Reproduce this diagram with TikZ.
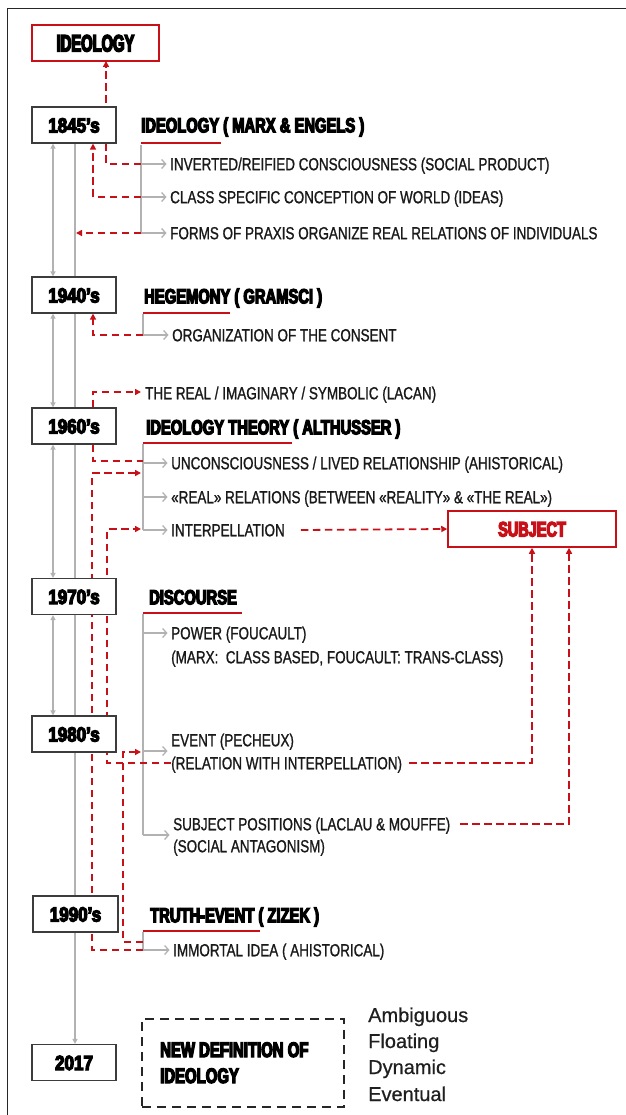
\documentclass[tikz,border=0pt]{standalone}
\usepackage{fontspec}
\setmainfont{Liberation Sans}
\usetikzlibrary{arrows.meta,backgrounds}
\newfontfamily\fbody[FakeStretch=0.77,FakeBold=1]{Liberation Sans}
\newfontfamily\fhead[FakeStretch=0.72,FakeBold=6]{Liberation Sans Bold}
\newfontfamily\fyear[FakeStretch=0.83,FakeBold=6]{Liberation Sans Bold}
\newfontfamily\ftop[FakeStretch=0.62,FakeBold=6]{Liberation Sans Bold}
\newfontfamily\fsubj[FakeStretch=0.69,FakeBold=6]{Liberation Sans Bold}
\newfontfamily\fnew[FakeStretch=0.71,FakeBold=6]{Liberation Sans Bold}
\newfontfamily\fplain[FakeBold=0.6]{Liberation Sans}
\definecolor{rd}{RGB}{200,16,24}
\definecolor{gl}{RGB}{178,178,178}
\definecolor{bx}{RGB}{60,60,60}
\begin{document}
\begin{tikzpicture}[x=1pt,y=-1pt,
  yearbox/.style={draw=bx, line width=1.2pt, fill=white, minimum width=84pt, minimum height=36pt, inner sep=0pt, text height=15pt, text depth=0pt, font={\fyear\fontsize{20.5}{21}\selectfont}},
  redbox/.style={draw=rd, line width=1.5pt, fill=white, minimum height=36pt, inner sep=0pt},
  head/.style={anchor=west, inner sep=0pt, text height=14.7pt, text depth=0pt, font={\fhead\fontsize{20.5}{21}\selectfont}},
  item/.style={anchor=west, inner sep=0pt, text height=12.5pt, text depth=0pt, text=black!90, font={\fbody\fontsize{17.5}{18}\selectfont}},
  adj/.style={anchor=base west, inner sep=0pt, text=black!88, font={\fplain\fontsize{20}{20}\selectfont}},
  newtxt/.style={anchor=base west, inner sep=0pt, font={\fnew\fontsize{21}{21}\selectfont}},
  uline/.style={draw=rd, line width=2.4pt},
  gline/.style={draw=gl, line width=1.3pt},
  garr/.style={gline, shorten >=3.5pt, -{Straight Barb[length=4pt,width=9pt]}},
  gdbl/.style={gline, {Triangle[length=5pt,width=5pt]}-{Triangle[length=5pt,width=5pt]}},
  gend/.style={gline, -{Triangle[length=5pt,width=5pt]}},
  rdash/.style={draw=rd, line width=1.8pt, dash pattern=on 7.5pt off 4.5pt},
  rarr/.style={rdash, -{Triangle[length=6pt,width=6pt]}}]
\useasboundingbox (0,0) rectangle (625,1115);

% boxes
\node[redbox, minimum width=127pt, text height=17pt, text depth=0pt, font={\ftop\fontsize{23.7}{24}\selectfont}] (ideo) at (95.5,43) {IDEOLOGY};
\node[yearbox] (y1845) at (74,125) {1845’s};
\node[yearbox] (y1940) at (74,295) {1940’s};
\node[yearbox] (y1960) at (74,426) {1960’s};
\node[yearbox] (y1970) at (74,596.5) {1970’s};
\node[yearbox] (y1980) at (74,734) {1980’s};
\node[yearbox, minimum width=85pt] (y1990) at (75.5,914) {1990’s};
\node[yearbox] (y2017) at (74,1062.5) {2017};
\node[redbox, minimum width=168pt, text=rd, text height=15pt, text depth=0pt, font={\fsubj\fontsize{21}{21}\selectfont}] (subject) at (532,529) {SUBJECT};
\node[draw=black!85, line width=1.5pt, dash pattern=on 9pt off 6pt, minimum width=202pt, minimum height=88pt, inner sep=0pt] (newdef) at (243,1063) {};
\node[newtxt] (nd1) at (160,1057) {NEW DEFINITION OF};
\node[newtxt] (nd2) at (160,1083) {IDEOLOGY};

% headings
\node[head] (h1) at (141,125) {IDEOLOGY ( MARX \& ENGELS )};
\node[head] (h2) at (144,296) {HEGEMONY ( GRAMSCI )};
\node[head] (h3) at (146,427) {IDEOLOGY THEORY ( ALTHUSSER )};
\node[head] (h4) at (149,597) {DISCOURSE};
\node[head] (h5) at (150,915) {TRUTH-EVENT ( ZIZEK )};

% items
\node[item] (a1) at (170,164) {INVERTED/REIFIED CONSCIOUSNESS (SOCIAL PRODUCT)};
\node[item] (a2) at (170,197) {CLASS SPECIFIC CONCEPTION OF WORLD (IDEAS)};
\node[item] (a3) at (170,233) {FORMS OF PRAXIS ORGANIZE REAL RELATIONS OF INDIVIDUALS};
\node[item] (b1) at (172,335) {ORGANIZATION OF THE CONSENT};
\node[item] (lac) at (145,393) {THE REAL / IMAGINARY / SYMBOLIC (LACAN)};
\node[item] (c1) at (171,463) {UNCONSCIOUSNESS / LIVED RELATIONSHIP (AHISTORICAL)};
\node[item] (c2) at (171,497) {«REAL» RELATIONS (BETWEEN «REALITY» \& «THE REAL»)};
\node[item] (c3) at (171,530) {INTERPELLATION};
\node[item] (d1) at (171,633) {POWER (FOUCAULT)};
\node[item] (d2) at (171,657) {(MARX:\ \ CLASS BASED, FOUCAULT: TRANS-CLASS)};
\node[item] (e1) at (171,740) {EVENT (PECHEUX)};
\node[item] (e2) at (171,763) {(RELATION WITH INTERPELLATION)};
\node[item] (f1) at (173,824) {SUBJECT POSITIONS (LACLAU \& MOUFFE)};
\node[item] (f2) at (173,846) {(SOCIAL ANTAGONISM)};
\node[item] (g1) at (173,950) {IMMORTAL IDEA ( AHISTORICAL)};

\node[adj] (w1) at (368,1022) {Ambiguous};
\node[adj] (w2) at (368,1048) {Floating};
\node[adj] (w3) at (368,1074) {Dynamic};
\node[adj] (w4) at (368,1101) {Eventual};

% coordinates
\coordinate (rl) at (75,0);
\coordinate (ll) at (53,0);
\coordinate (ideoIn) at (106,61);
\coordinate (p1) at (141,164);
\coordinate (p2) at (141,197);
\coordinate (p3) at (141,233);
\coordinate (q1) at (76,233);
\coordinate (bx93) at (93,0);
\coordinate (p4) at (143,335);
\coordinate (p6) at (143,461);
\coordinate (p7) at (143,950);
\coordinate (k7) at (92,473);
\coordinate (t7) at (141,473);
\coordinate (k8) at (107,529);
\coordinate (t8) at (141,529);
\coordinate (p12) at (143,942);
\coordinate (k12) at (123,752);
\coordinate (t12) at (141,752);
\coordinate (lacIn) at (141,392);
\coordinate (sx1) at (532,0);
\coordinate (sx2) at (569,0);

\begin{scope}[on background layer]
\draw[black!85, line width=1.3pt] (626,8.5) -- (7.5,8.5) -- (7.5,1116);
% gray timeline
\draw[gend] (y1845.south -| rl) -- (y2017.north -| rl);
\draw[gdbl] (y1845.south -| ll) -- (y1940.north -| ll);
\draw[gdbl] (y1940.south -| ll) -- (y1960.north -| ll);
\draw[gdbl] (y1960.south -| ll) -- (y1970.north -| ll);
\draw[gdbl] (y1970.south -| ll) -- (y1980.north -| ll);
% underlines
\draw[uline] (141,143) -- (221,143);
\draw[uline] (143,313) -- (230,313);
\draw[uline] (143,443) -- (292,443);
\draw[uline] (143,613) -- (242,613);
\draw[uline] (143,931) -- (260,931);
% gray branches
\draw[gline] (141,145) -- (141,233);
\draw[garr] (p1) -- (a1.west);
\draw[garr] (p2) -- (a2.west);
\draw[garr] (p3) -- (a3.west);
\draw[gline] (143,314) -- (p4);
\draw[garr] (p4) -- (b1.west);
\draw[gline] (143,444) -- (143,530);
\draw[garr] (143,463) -- (c1.west);
\draw[garr] (143,497) -- (c2.west);
\draw[garr] (143,530) -- (c3.west);
\draw[gline] (143,614) -- (143,835);
\draw[garr] (143,633) -- (d1.west);
\draw[garr] (143,751) -- (171,751);
\draw[garr] (143,835) -- (173,835);
\draw[gline] (143,932) -- (p7);
\draw[garr] (p7) -- (g1.west);
% red dashed connectors
\draw[rarr] (p1) -| (ideoIn);
\draw[rarr] (p2) -| (y1845.south -| bx93);
\draw[rarr] (p3) -- (q1);
\draw[rarr] (p4) -| (y1940.south -| bx93);
\draw[rarr] (y1960.north -| bx93) |- (lacIn);
\draw[rdash] (y1960.south -| bx93) |- (p6);
\draw[rarr] (p7) -| (k7) -- (t7);
\draw[rarr] (e2.west) -| (k8) -- (t8);
\draw[rarr] (p12) -| (k12) -- (t12);
\draw[rarr] ([xshift=16pt]c3.east) -- (subject.west);
\draw[rarr] ([xshift=7pt]e2.east) -| (subject.south -| sx1);
\draw[rarr] ([xshift=10pt]f1.east) -| (subject.south -| sx2);
\end{scope}
\end{tikzpicture}
\end{document}
